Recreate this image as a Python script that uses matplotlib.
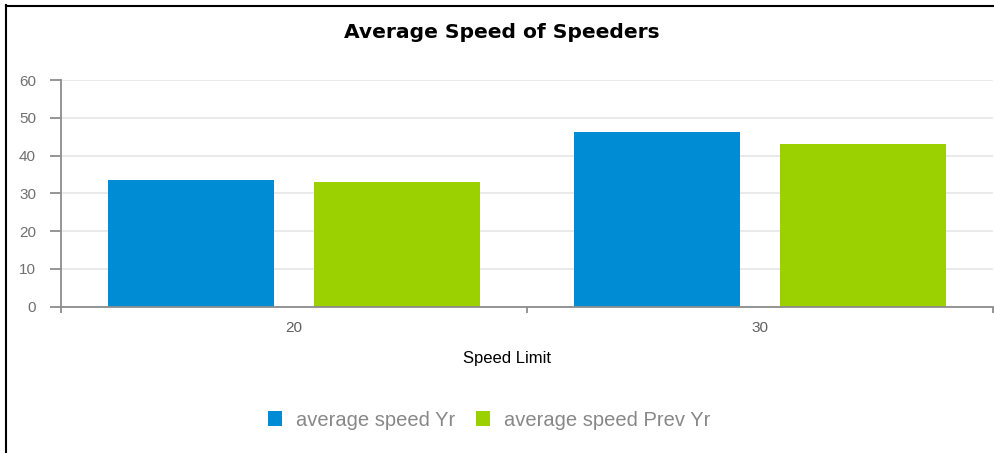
import matplotlib
matplotlib.use("Agg")
import matplotlib.pyplot as plt
import numpy as np
from matplotlib.lines import Line2D
from matplotlib.patches import Patch

categories = ["20", "30"]
series_names = ["average speed Yr", "average speed Prev Yr"]
speed_yr = [33.5, 46.3]
speed_prev_yr = [32.9, 43.0]
y_ticks = [0, 10, 20, 30, 40, 50, 60]

colors = ["#008cd4", "#9bd100"]

W, H = 994, 453
fig = plt.figure(figsize=(W / 100, H / 100), dpi=100)
plt.rcParams['font.family'] = ['Liberation Sans', 'DejaVu Sans']

ax = fig.add_axes([61 / W, 1 - 306.7 / H, (993 - 61) / W, (306.7 - 80) / H])

x = np.arange(len(categories))
bw = 0.357
off = 0.2215
ax.bar(x - off, speed_yr, width=bw, color=colors[0], zorder=3)
ax.bar(x + off, speed_prev_yr, width=bw, color=colors[1], zorder=3)

ax.set_xlim(-0.5, len(categories) - 0.5)
ax.set_ylim(0, 60)
ax.set_yticks(y_ticks)
ax.set_yticklabels([str(v) for v in y_ticks])
ax.set_xticks(x)
ax.set_xticklabels(categories)
ax.set_xticks([-0.5, 0.5, 1.5], minor=True)

ax.grid(axis='y', color='#e6e6e6', linewidth=1.2, zorder=0)
ax.set_axisbelow(True)
for s in ['top', 'right']:
    ax.spines[s].set_visible(False)
for s in ['left', 'bottom']:
    ax.spines[s].set_color('#8c8c8c')
    ax.spines[s].set_linewidth(1.3)
    ax.spines[s].set_zorder(4)

ax.tick_params(axis='y', colors='#8c8c8c', labelcolor='#707070', length=8, width=1.3,
               labelsize=11, pad=10)
ax.tick_params(axis='x', which='major', length=0, labelcolor='#606060', labelsize=11, pad=10)
ax.tick_params(axis='x', which='minor', colors='#8c8c8c', length=4.5, width=1.3)
ax.spines['left'].set_bounds(0, 60)

fig.text(507 / W, 1 - 358 / H, "Speed Limit", ha='center', va='center',
         fontsize=12, color='#000000')

fig.text(502 / W, 1 - 33 / H, "Average Speed of Speeders", ha='center', va='center',
         fontsize=14.6, fontweight='bold', color='#000000', family=['DejaVu Sans'])

handles = [Patch(facecolor=colors[0]), Patch(facecolor=colors[1])]
leg = fig.legend(handles, series_names, loc='center', bbox_to_anchor=(489 / W, 1 - 420 / H),
                 ncol=2, frameon=False, fontsize=14.5, handlelength=0.7, handleheight=0.7,
                 handletextpad=0.7, columnspacing=1.0, labelcolor='#888888',
                 borderpad=0, borderaxespad=0)

fig.add_artist(Line2D([6 / W, 6 / W], [0, 1 - 5 / H], color='black', linewidth=1.5,
                      transform=fig.transFigure))
fig.add_artist(Line2D([6 / W, 1], [1 - 6 / H, 1 - 6 / H], color='black', linewidth=1.5,
                      transform=fig.transFigure))

fig.savefig("out.png", dpi=100)
